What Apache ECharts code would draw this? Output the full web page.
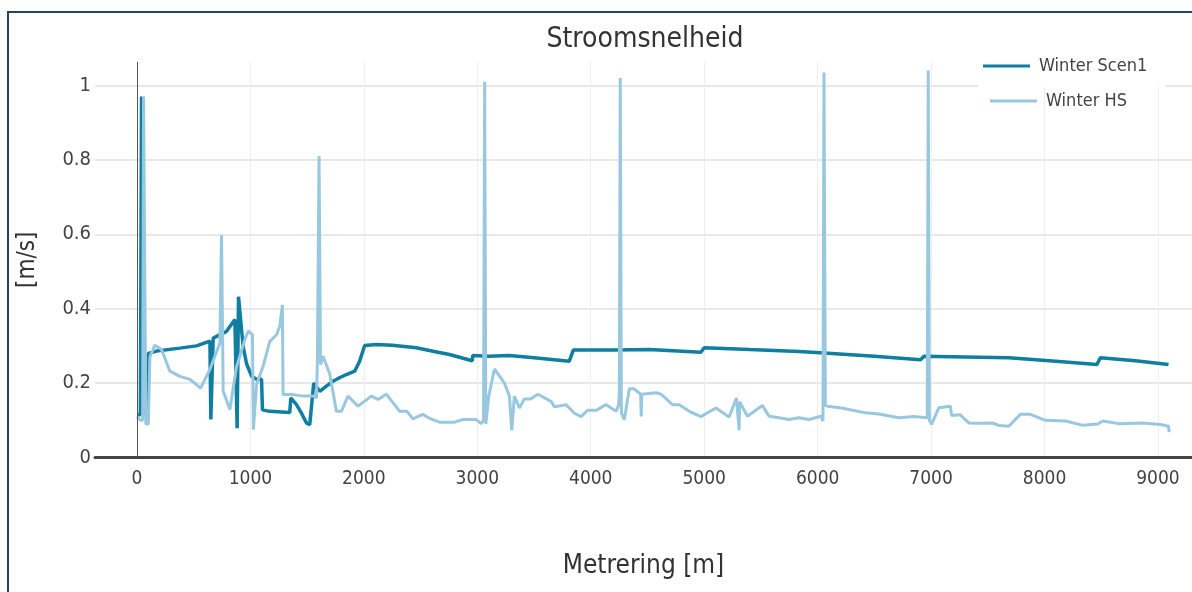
<!DOCTYPE html>
<html>
<head>
<meta charset="utf-8">
<title>Stroomsnelheid</title>
<script src="https://cdn.jsdelivr.net/npm/echarts@6/dist/echarts.min.js"></script>
<style>
  html, body { margin: 0; padding: 0; background: #ffffff; }
  #chart { width: 1192px; height: 592px; }
</style>
</head>
<body>
<div id="chart"></div>
<script>
// Stroomsnelheid langs de metrering, twee wintersituaties
const seriesNames = ['Winter Scen1', 'Winter HS'];

const scen1Metrering = [0, 30, 40, 52, 62, 85, 100, 173, 379, 525, 643, 651, 672, 790, 863, 883, 895, 936, 966, 1010,
  1054, 1098, 1106, 1171, 1347, 1356, 1406, 1450, 1494, 1523, 1558, 1611, 1670, 1728, 1790, 1846, 1919, 1963, 2007, 2110,
  2250, 2462, 2620, 2755, 2955, 2960, 3100, 3283, 3500, 3811, 3847, 4200, 4516, 4971, 5000, 5400, 5836, 6056, 6500, 6907,
  6937, 7300, 7685, 8100, 8462, 8492, 8800, 9093];
const scen1Snelheid = [0.115, 0.115, 0.97, 0.97, 0.12, 0.12, 0.28, 0.286, 0.294, 0.300, 0.313, 0.102, 0.321, 0.339, 0.371, 0.079, 0.432, 0.298, 0.252, 0.219,
  0.210, 0.210, 0.128, 0.124, 0.121, 0.160, 0.142, 0.119, 0.093, 0.088, 0.200, 0.178, 0.192, 0.205, 0.215, 0.223, 0.232, 0.259, 0.301, 0.304,
  0.302, 0.295, 0.285, 0.277, 0.260, 0.274, 0.272, 0.274, 0.268, 0.259, 0.289, 0.289, 0.290, 0.283, 0.295, 0.290, 0.285, 0.281, 0.272, 0.263,
  0.272, 0.270, 0.268, 0.259, 0.250, 0.268, 0.260, 0.250];

const hsMetrering = [0, 30, 50, 58, 68, 78, 100, 114, 158, 217, 290, 379, 467, 540, 560, 643, 731, 745, 760, 819,
  877, 951, 980, 1018, 1026, 1054, 1112, 1171, 1230, 1259, 1282, 1288, 1376, 1464, 1552, 1582, 1590, 1605, 1618, 1640,
  1655, 1699, 1758, 1802, 1860, 1919, 1949, 2066, 2124, 2198, 2250, 2315, 2380, 2432, 2520, 2580, 2667, 2800, 2873, 2990,
  3034, 3055, 3065, 3075, 3090, 3101, 3151, 3239, 3283, 3304, 3327, 3371, 3415, 3470, 3533, 3650, 3680, 3782, 3856, 3914,
  3973, 4050, 4135, 4223, 4245, 4252, 4260, 4270, 4296, 4340, 4380, 4440, 4445, 4450, 4575, 4620, 4721, 4780, 4868, 4971,
  5103, 5220, 5284, 5308, 5312, 5381, 5513, 5572, 5660, 5748, 5836, 5924, 6027, 6047, 6056, 6068, 6086, 6210, 6423, 6540,
  6716, 6850, 6966, 6975, 6985, 7004, 7069, 7171, 7180, 7255, 7333, 7450, 7540, 7597, 7685, 7787, 7875, 8008, 8184, 8331,
  8470, 8512, 8653, 8858, 9020, 9093, 9099];
const hsSnelheid = [0.11, 0.10, 0.10, 0.97, 0.97, 0.09, 0.09, 0.27, 0.302, 0.29, 0.232, 0.218, 0.21, 0.192, 0.186, 0.237, 0.308, 0.597, 0.178, 0.129,
  0.243, 0.317, 0.340, 0.330, 0.075, 0.196, 0.245, 0.312, 0.330, 0.353, 0.410, 0.169, 0.169, 0.165, 0.165, 0.160, 0.254, 0.81, 0.25, 0.272,
  0.268, 0.225, 0.124, 0.124, 0.165, 0.147, 0.138, 0.165, 0.156, 0.170, 0.150, 0.124, 0.124, 0.104, 0.116, 0.105, 0.095, 0.095, 0.102, 0.102,
  0.091, 0.10, 1.01, 0.09, 0.089, 0.165, 0.238, 0.200, 0.165, 0.073, 0.165, 0.133, 0.157, 0.157, 0.170, 0.151, 0.136, 0.142, 0.119, 0.110,
  0.127, 0.127, 0.142, 0.124, 0.14, 0.17, 1.02, 0.12, 0.102, 0.185, 0.185, 0.170, 0.110, 0.170, 0.174, 0.170, 0.142, 0.142, 0.124, 0.110,
  0.133, 0.109, 0.160, 0.073, 0.15, 0.111, 0.140, 0.111, 0.107, 0.102, 0.107, 0.102, 0.111, 0.098, 1.035, 0.14, 0.138, 0.133, 0.120, 0.117,
  0.107, 0.110, 0.107, 1.04, 0.10, 0.089, 0.134, 0.138, 0.113, 0.115, 0.093, 0.092, 0.093, 0.086, 0.084, 0.116, 0.116, 0.100, 0.098, 0.087,
  0.090, 0.098, 0.091, 0.093, 0.089, 0.084, 0.068];

const FONT = '"DejaVu Sans Condensed", "Liberation Sans Narrow", "DejaVu Sans", sans-serif';
const zip = (xs, ys) => xs.map((x, i) => [x, ys[i]]);

const chart = echarts.init(document.getElementById('chart'));
chart.setOption({
  backgroundColor: '#ffffff',
  animation: false,
  textStyle: { fontFamily: FONT },
  graphic: [{
    type: 'rect',
    shape: { x: 8, y: 12, width: 1200, height: 600 },
    style: { fill: 'none', stroke: '#24445c', lineWidth: 2 },
    silent: true, z: 100
  }],
  title: {
    text: 'Stroomsnelheid',
    left: 640, top: 21,
    textAlign: 'center',
    textStyle: { fontFamily: FONT, fontSize: 28, fontWeight: 'normal', color: '#333333' }
  },
  legend: [{
    data: [seriesNames[0]],
    left: 978, top: 45,
    padding: [12, 18, 12, 5],
    backgroundColor: '#ffffff',
    icon: 'rect', itemWidth: 47, itemHeight: 3, itemGap: 0,
    textStyle: { fontFamily: FONT, fontSize: 18, color: '#444444', padding: [0, 0, 0, 4] }
  }, {
    data: [seriesNames[1]],
    left: 985, top: 90,
    padding: [2, 5, 2, 5],
    icon: 'rect', itemWidth: 47, itemHeight: 3, itemGap: 0,
    textStyle: { fontFamily: FONT, fontSize: 18, color: '#444444', padding: [0, 0, 0, 4] }
  }],
  grid: { left: 95, right: 0, top: 62, bottom: 134.5, containLabel: false },
  xAxis: {
    type: 'value',
    min: -370, max: 9300,
    splitNumber: 10,
    name: 'Metrering [m]',
    nameLocation: 'middle',
    nameGap: 96,
    nameTextStyle: { fontFamily: FONT, fontSize: 26, color: '#333333' },
    axisLine: { show: true, onZero: false, lineStyle: { color: '#444444', width: 3 } },
    axisTick: { show: false },
    axisLabel: {
      showMinLabel: false, showMaxLabel: false, margin: 12,
      fontFamily: FONT, fontSize: 19, color: '#444444',
      formatter: v => String(Math.abs(v) < 1e-9 ? 0 : v)
    },
    splitLine: { show: true, showMinLine: false, showMaxLine: false, lineStyle: { color: '#eeeeee', width: 1 } }
  },
  yAxis: {
    type: 'value',
    min: 0, max: 1.063,
    interval: 0.2,
    name: '[m/s]',
    nameLocation: 'middle',
    nameGap: 55,
    nameTextStyle: { fontFamily: FONT, fontSize: 24, color: '#333333' },
    axisLine: { show: false, onZero: false },
    axisTick: { show: false },
    axisLabel: { showMaxLabel: false, margin: 4, fontFamily: FONT, fontSize: 20, color: '#444444' },
    splitLine: { show: true, showMaxLine: false, lineStyle: { color: '#e8e8e8', width: 2 } }
  },
  series: [{
    name: seriesNames[0],
    type: 'line',
    data: zip(scen1Metrering, scen1Snelheid),
    symbol: 'none',
    z: 3,
    lineStyle: { color: '#0f7ea0', width: 3.5 },
    itemStyle: { color: '#0f7ea0' },
    markLine: {
      silent: true, symbol: 'none', label: { show: false },
      lineStyle: { color: '#555555', width: 1, type: 'solid' },
      data: [{ xAxis: 0 }]
    }
  }, {
    name: seriesNames[1],
    type: 'line',
    data: zip(hsMetrering, hsSnelheid),
    symbol: 'none',
    z: 4,
    lineStyle: { color: '#98c8e0', width: 3 },
    itemStyle: { color: '#98c8e0' }
  }]
});
</script>
</body>
</html>
